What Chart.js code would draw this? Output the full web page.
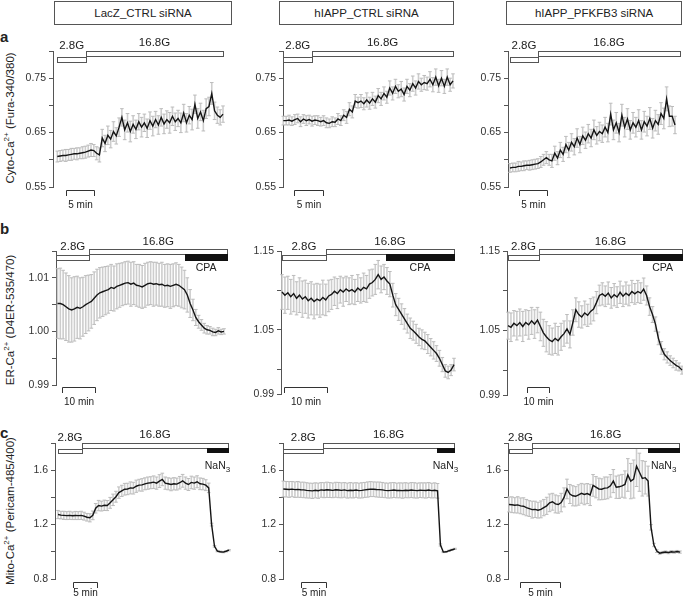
<!DOCTYPE html>
<html>
<head>
<meta charset="utf-8">
<script src="https://cdn.jsdelivr.net/npm/chart.js@4.4.1/dist/chart.umd.min.js"></script>
<style>
  body { margin: 0; background: #fff; }
  #fig { position: relative; width: 683px; height: 599px; overflow: hidden;
         font-family: "Liberation Sans", Arial, sans-serif; color: #222; }
  #fig canvas { position: absolute; }
  .title { position: absolute; top: 1px; height: 24px; box-sizing: border-box; border: 1px solid #555;
           font-size: 11.5px; line-height: 22px; text-align: center; }
  .ylab { position: absolute; white-space: nowrap; font-size: 11.5px;
          transform: translate(-50%, -50%) rotate(-90deg); }
  .ylab sup { font-size: 8px; line-height: 0; }
  .letter { position: absolute; left: 0; font-weight: bold; font-size: 15px; line-height: 15px; }
</style>
</head>
<body>
<div id="fig">
  <div class="title" style="left:54px;width:178px">LacZ_CTRL siRNA</div>
  <div class="title" style="left:279px;width:175px">hIAPP_CTRL siRNA</div>
  <div class="title" style="left:506px;width:176px">hIAPP_PFKFB3 siRNA</div>
  <div class="letter" style="top:29px">a</div>
  <div class="letter" style="top:221px">b</div>
  <div class="letter" style="top:425px">c</div>
  <div class="ylab" style="left:10px;top:118px">Cyto-Ca<sup>2+</sup> (Fura-340/380)</div>
  <div class="ylab" style="left:10px;top:320px">ER-Ca<sup>2+</sup> (D4ER-535/470)</div>
  <div class="ylab" style="left:10px;top:511px">Mito-Ca<sup>2+</sup> (Pericam-485/400)</div>
</div>
<script>
// ---- tick values / labels ----
const aTickValues = [0.55, 0.60, 0.65, 0.70, 0.75, 0.80];
const aTickLabels = ["0.55", "", "0.65", "", "0.75", ""];
const b1TickValues = [0.99, 0.995, 1.00, 1.005, 1.01, 1.015];
const b1TickLabels = ["0.99", "", "1.00", "", "1.01", ""];
const b23TickValues = [0.9687, 1.00, 1.05, 1.10, 1.15];
const b23TickLabels = ["0.99", "", "1.05", "", "1.15"];
const cTickValues = [0.8, 1.0, 1.2, 1.4, 1.6, 1.8];
const cTickLabels = ["0.8", "", "1.2", "", "1.6", ""];

// ---- a: cytosolic Ca2+ ----
const a1Values = [
  0.606,0.607,0.608,0.608,0.609,0.610,0.611,0.611,0.612,0.613,
  0.614,0.616,0.618,0.617,0.612,0.609,0.640,0.630,0.645,0.638,
  0.652,0.644,0.660,0.678,0.655,0.668,0.652,0.665,0.656,0.670,
  0.660,0.668,0.658,0.672,0.662,0.674,0.664,0.678,0.666,0.674,
  0.668,0.680,0.670,0.676,0.668,0.686,0.668,0.682,0.674,0.702,
  0.676,0.688,0.672,0.694,0.698,0.722,0.690,0.682,0.678,0.684];
const a1Errors = [
  0.010,0.010,0.010,0.011,0.010,0.011,0.010,0.011,0.010,0.011,
  0.011,0.011,0.012,0.011,0.012,0.013,0.016,0.015,0.017,0.016,
  0.018,0.015,0.017,0.016,0.018,0.017,0.019,0.016,0.017,0.015,
  0.018,0.016,0.017,0.016,0.018,0.015,0.017,0.016,0.018,0.016,
  0.019,0.017,0.016,0.015,0.018,0.016,0.017,0.016,0.019,0.017,
  0.018,0.016,0.019,0.018,0.017,0.020,0.016,0.015,0.014,0.015];
const a2Values = [
  0.672,0.672,0.673,0.671,0.674,0.676,0.670,0.675,0.672,0.674,
  0.671,0.673,0.672,0.670,0.672,0.668,0.667,0.670,0.669,0.675,
  0.672,0.682,0.678,0.693,0.688,0.708,0.705,0.708,0.703,0.710,
  0.704,0.712,0.706,0.718,0.712,0.722,0.715,0.732,0.722,0.735,
  0.726,0.730,0.720,0.735,0.728,0.740,0.732,0.744,0.738,0.742,
  0.740,0.748,0.738,0.752,0.736,0.750,0.735,0.752,0.738,0.745];
const a2Errors = [
  0.008,0.008,0.009,0.008,0.009,0.008,0.009,0.008,0.009,0.008,
  0.009,0.008,0.009,0.008,0.009,0.009,0.008,0.009,0.008,0.010,
  0.009,0.010,0.011,0.012,0.011,0.012,0.010,0.012,0.011,0.013,
  0.011,0.012,0.011,0.013,0.012,0.012,0.011,0.013,0.012,0.013,
  0.012,0.014,0.012,0.013,0.012,0.014,0.013,0.014,0.012,0.013,
  0.012,0.014,0.013,0.015,0.012,0.014,0.013,0.015,0.012,0.013];
const a3Values = [
  0.585,0.586,0.586,0.588,0.588,0.589,0.590,0.590,0.591,0.592,
  0.593,0.596,0.600,0.604,0.600,0.598,0.612,0.603,0.618,0.610,
  0.628,0.618,0.632,0.624,0.640,0.628,0.644,0.636,0.648,0.640,
  0.655,0.645,0.652,0.648,0.660,0.650,0.684,0.655,0.668,0.650,
  0.682,0.660,0.675,0.655,0.668,0.660,0.672,0.655,0.670,0.662,
  0.676,0.658,0.672,0.665,0.685,0.676,0.712,0.680,0.680,0.664];
const a3Errors = [
  0.008,0.008,0.008,0.009,0.008,0.009,0.008,0.009,0.009,0.009,
  0.009,0.010,0.010,0.011,0.010,0.012,0.013,0.012,0.014,0.013,
  0.015,0.014,0.016,0.015,0.017,0.015,0.016,0.015,0.017,0.016,
  0.018,0.016,0.017,0.016,0.018,0.017,0.020,0.018,0.019,0.017,
  0.020,0.018,0.019,0.017,0.019,0.018,0.020,0.017,0.019,0.018,
  0.020,0.018,0.019,0.018,0.020,0.019,0.022,0.019,0.018,0.016];

// ---- b: ER Ca2+ ----
const b1Values = [
  1.0052,1.0052,1.0050,1.0046,1.0042,1.0040,1.0042,1.0045,1.0043,1.0046,
  1.0050,1.0053,1.0056,1.0062,1.0068,1.0072,1.0074,1.0076,1.0078,1.0082,
  1.0080,1.0084,1.0086,1.0088,1.0090,1.0091,1.0088,1.0090,1.0086,1.0085,
  1.0083,1.0086,1.0089,1.0090,1.0088,1.0089,1.0087,1.0088,1.0085,1.0086,
  1.0084,1.0086,1.0088,1.0086,1.0082,1.0078,1.0068,1.0052,1.0040,1.0026,
  1.0018,1.0012,1.0006,1.0003,1.0002,0.9999,0.9998,1.0001,0.9999,1.0000];
const b1Errors = [
  0.0065,0.0066,0.0064,0.0063,0.0062,0.0060,0.0060,0.0058,0.0057,0.0055,
  0.0054,0.0052,0.0050,0.0049,0.0048,0.0047,0.0046,0.0045,0.0044,0.0043,
  0.0042,0.0042,0.0041,0.0040,0.0040,0.0040,0.0041,0.0040,0.0039,0.0040,
  0.0040,0.0041,0.0040,0.0040,0.0041,0.0040,0.0040,0.0041,0.0040,0.0040,
  0.0041,0.0040,0.0040,0.0039,0.0038,0.0036,0.0032,0.0026,0.0020,0.0015,
  0.0012,0.0010,0.0009,0.0008,0.0007,0.0007,0.0006,0.0006,0.0005,0.0005];
const b2Values = [
  1.098,1.094,1.097,1.092,1.096,1.090,1.094,1.089,1.092,1.087,
  1.090,1.086,1.089,1.087,1.091,1.088,1.093,1.095,1.099,1.096,
  1.101,1.098,1.102,1.099,1.101,1.098,1.103,1.100,1.104,1.102,
  1.108,1.110,1.114,1.120,1.114,1.117,1.112,1.108,1.094,1.082,
  1.076,1.070,1.064,1.058,1.052,1.049,1.045,1.041,1.038,1.036,
  1.032,1.028,1.024,1.020,1.014,1.006,0.998,0.996,0.999,1.006];
const b2Errors = [
  0.022,0.023,0.021,0.022,0.023,0.021,0.022,0.023,0.021,0.022,
  0.021,0.022,0.020,0.021,0.022,0.020,0.020,0.019,0.018,0.019,
  0.017,0.018,0.016,0.017,0.018,0.016,0.017,0.016,0.018,0.017,
  0.018,0.017,0.019,0.018,0.017,0.016,0.017,0.016,0.015,0.014,
  0.014,0.013,0.013,0.012,0.013,0.012,0.012,0.011,0.012,0.011,
  0.012,0.011,0.011,0.010,0.010,0.009,0.008,0.008,0.007,0.008];
const b3Values = [
  1.056,1.054,1.059,1.056,1.060,1.055,1.060,1.057,1.062,1.058,
  1.063,1.055,1.047,1.042,1.038,1.036,1.040,1.037,1.042,1.046,
  1.052,1.045,1.060,1.076,1.070,1.067,1.072,1.069,1.074,1.077,
  1.085,1.094,1.096,1.093,1.097,1.091,1.095,1.092,1.098,1.093,
  1.097,1.094,1.099,1.096,1.099,1.097,1.102,1.094,1.080,1.070,
  1.058,1.040,1.028,1.020,1.016,1.012,1.009,1.006,1.004,1.000];
const b3Errors = [
  0.017,0.018,0.016,0.018,0.017,0.019,0.016,0.018,0.017,0.018,
  0.016,0.018,0.017,0.019,0.018,0.017,0.019,0.018,0.017,0.016,
  0.018,0.017,0.016,0.015,0.016,0.014,0.015,0.014,0.016,0.015,
  0.014,0.013,0.014,0.013,0.014,0.013,0.014,0.013,0.014,0.013,
  0.014,0.013,0.014,0.013,0.014,0.013,0.014,0.012,0.011,0.010,
  0.009,0.008,0.008,0.007,0.007,0.006,0.006,0.006,0.005,0.005];

// ---- c: mitochondrial Ca2+ ----
const c1Values = [
  1.274,1.270,1.268,1.266,1.268,1.265,1.267,1.266,1.268,1.262,
  1.254,1.250,1.268,1.320,1.340,1.336,1.342,1.340,1.360,1.382,
  1.405,1.435,1.448,1.460,1.462,1.470,1.468,1.482,1.490,1.492,
  1.500,1.505,1.508,1.512,1.505,1.520,1.532,1.505,1.500,1.495,
  1.500,1.498,1.508,1.522,1.505,1.495,1.510,1.505,1.515,1.500,
  1.498,1.490,1.470,1.200,1.040,1.005,1.000,0.998,1.004,1.012];
const c1Errors = [
  0.030,0.028,0.030,0.029,0.030,0.028,0.030,0.029,0.030,0.029,
  0.028,0.030,0.032,0.035,0.038,0.036,0.038,0.037,0.040,0.042,
  0.040,0.042,0.041,0.043,0.042,0.044,0.043,0.045,0.043,0.046,
  0.044,0.045,0.044,0.046,0.045,0.047,0.046,0.045,0.044,0.046,
  0.045,0.044,0.046,0.047,0.045,0.044,0.046,0.045,0.044,0.043,
  0.042,0.040,0.035,0.010,0.006,0.005,0.005,0.005,0.005,0.005];
const c2Values = [
  1.462,1.460,1.458,1.461,1.457,1.459,1.456,1.455,1.452,1.450,
  1.448,1.452,1.449,1.455,1.453,1.456,1.454,1.452,1.456,1.454,
  1.452,1.455,1.450,1.453,1.451,1.454,1.450,1.452,1.455,1.458,
  1.461,1.460,1.458,1.457,1.455,1.452,1.450,1.452,1.454,1.451,
  1.452,1.450,1.453,1.451,1.454,1.452,1.450,1.453,1.452,1.451,
  1.454,1.450,1.452,1.448,1.050,0.998,1.000,1.008,1.015,1.022];
const c2Errors = [
  0.058,0.057,0.058,0.056,0.057,0.058,0.056,0.057,0.056,0.055,
  0.056,0.055,0.056,0.054,0.055,0.056,0.055,0.054,0.055,0.056,
  0.055,0.054,0.055,0.056,0.055,0.054,0.055,0.056,0.055,0.056,
  0.055,0.054,0.055,0.056,0.055,0.054,0.055,0.056,0.055,0.054,
  0.055,0.056,0.055,0.054,0.055,0.056,0.055,0.054,0.055,0.056,
  0.055,0.054,0.055,0.054,0.008,0.004,0.004,0.004,0.004,0.004];
const c3Values = [
  1.348,1.346,1.342,1.345,1.338,1.335,1.325,1.318,1.310,1.312,
  1.306,1.312,1.325,1.338,1.360,1.368,1.352,1.348,1.362,1.400,
  1.462,1.425,1.412,1.408,1.418,1.430,1.422,1.428,1.418,1.488,
  1.475,1.462,1.460,1.468,1.470,1.485,1.520,1.475,1.478,1.485,
  1.495,1.565,1.520,1.535,1.630,1.585,1.540,1.545,1.520,1.180,
  1.050,1.005,0.990,0.995,0.998,0.994,1.000,0.998,1.002,0.998];
const c3Errors = [
  0.055,0.058,0.056,0.060,0.058,0.062,0.060,0.058,0.062,0.060,
  0.058,0.062,0.060,0.063,0.065,0.062,0.066,0.064,0.068,0.070,
  0.072,0.070,0.074,0.071,0.075,0.073,0.076,0.074,0.078,0.080,
  0.078,0.080,0.077,0.082,0.080,0.083,0.085,0.082,0.086,0.084,
  0.100,0.120,0.130,0.140,0.150,0.140,0.130,0.120,0.110,0.020,
  0.012,0.010,0.008,0.008,0.008,0.008,0.008,0.008,0.008,0.008];

// ---- protocol (minutes): [2.8G start, switch to 16.8G, end], drug start, scale bar [start, length] ----
const a1Phases = [0, 5.2, 30],    a2Phases = [0, 5.0, 29.3],  a3Phases = [0, 5.0, 30.4];
const b1Phases = [-0.4, 9.7, 51.5], b2Phases = [0, 10.2, 40], b3Phases = [0, 14.0, 79];
const c1Phases = [0, 5.0, 35.4],  c2Phases = [0, 8.0, 34.2],  c3Phases = [0, 2.9, 21.3];
const drugStarts = { b1: 38.8, b2: 24.2, b3: 61.4, c1: 31.0, c2: 30.8, c3: 17.4 };
const scaleBars = {
  a1: [1.6, 5], a2: [1.9, 5], a3: [1.6, 5],
  b1: [1.4, 10], b2: [0.5, 10], b3: [8.6, 10],
  c1: [3.1, 5], c2: [3.5, 5], c3: [1.4, 5]
};
const spans = { a1: 30, a2: 29.3, a3: 29.5, b1: 50.6, b2: 40, b3: 79, c1: 35.6, c2: 34.4, c3: 21.4 };

// ---- layout ----
const rowStyle = {
  a: { hi: [0, 5], lo: [6, 10.5], drug: null, lab2: -5, lab16: -8, drugLab: 0, sbY: 138.5, sbText: 154, drugName: "" },
  b: { hi: [-2, 2.5], lo: [3.5, 8.5], drug: [2.5, 8.5], lab2: -4, lab16: -9, drugLab: 17, sbY: 135.5, sbText: 151.5, drugName: "CPA" },
  c: { hi: [0, 4.5], lo: [5.5, 9.5], drug: [4.5, 9], lab2: -5, lab16: -8, drugLab: 23, sbY: 138.7, sbText: 150.3, drugName: "NaN" }
};
const axisA = { min: 0.55, max: 0.80, ticks: aTickValues, labels: aTickLabels };
const axisB1 = { min: 0.99, max: 1.015, ticks: b1TickValues, labels: b1TickLabels };
const axisB23 = { min: 0.9687, max: 1.15, ticks: b23TickValues, labels: b23TickLabels };
const axisC = { min: 0.8, max: 1.8, ticks: cTickValues, labels: cTickLabels };

const panels = [
  { name: "a1", row: "a", values: a1Values, errors: a1Errors, phases: a1Phases, axis: axisA, axisX: 53, right: 224, top: 51, bottom: 187, dataLeft: 57.3, dataRight: 223 },
  { name: "a2", row: "a", values: a2Values, errors: a2Errors, phases: a2Phases, axis: axisA, axisX: 283, right: 454, top: 51, bottom: 187, dataLeft: 283.3, dataRight: 453 },
  { name: "a3", row: "a", values: a3Values, errors: a3Errors, phases: a3Phases, axis: axisA, axisX: 508, right: 681, top: 51, bottom: 187, dataLeft: 510, dataRight: 675 },
  { name: "b1", row: "b", values: b1Values, errors: b1Errors, phases: b1Phases, axis: axisB1, axisX: 56, right: 228, top: 251, bottom: 385, dataLeft: 57.5, dataRight: 224 },
  { name: "b2", row: "b", values: b2Values, errors: b2Errors, phases: b2Phases, axis: axisB23, axisX: 281, right: 455, top: 251, bottom: 394, dataLeft: 282, dataRight: 454 },
  { name: "b3", row: "b", values: b3Values, errors: b3Errors, phases: b3Phases, axis: axisB23, axisX: 507, right: 683, top: 251, bottom: 395, dataLeft: 508, dataRight: 682 },
  { name: "c1", row: "c", values: c1Values, errors: c1Errors, phases: c1Phases, axis: axisC, axisX: 55, right: 230, top: 443, bottom: 579, dataLeft: 58, dataRight: 229 },
  { name: "c2", row: "c", values: c2Values, errors: c2Errors, phases: c2Phases, axis: axisC, axisX: 283, right: 456, top: 443, bottom: 579, dataLeft: 283.3, dataRight: 455 },
  { name: "c3", row: "c", values: c3Values, errors: c3Errors, phases: c3Phases, axis: axisC, axisX: 508, right: 681, top: 443, bottom: 579, dataLeft: 509, dataRight: 680 }
];

const FONT = '"Liberation Sans", Arial, sans-serif';
const AXIS_W = 45, PAD_T = 30, PAD_B = 30, PAD_R = 6;

function protocolPlugin(p, dt) {
  const rs = rowStyle[p.row];
  return {
    id: "protocol" + p.name,
    beforeDatasetsDraw(chart) {
      // error bars (SEM), one per sample
      const { ctx, scales: { x, y } } = chart;
      ctx.save();
      ctx.strokeStyle = "#cdcdcd";
      ctx.lineWidth = 1.6;
      ctx.beginPath();
      p.values.forEach((v, i) => {
        const px = x.getPixelForValue(i * dt);
        const lo = y.getPixelForValue(v - p.errors[i]);
        const hi = y.getPixelForValue(v + p.errors[i]);
        ctx.moveTo(px, lo); ctx.lineTo(px, hi);
      });
      ctx.stroke();
      ctx.strokeStyle = "#bcbcbc";
      ctx.lineWidth = 1;
      ctx.beginPath();
      p.values.forEach((v, i) => {
        const px = x.getPixelForValue(i * dt);
        const lo = y.getPixelForValue(v - p.errors[i]);
        const hi = y.getPixelForValue(v + p.errors[i]);
        ctx.moveTo(px - 1.8, lo); ctx.lineTo(px + 1.8, lo);
        ctx.moveTo(px - 1.8, hi); ctx.lineTo(px + 1.8, hi);
      });
      ctx.stroke();
      ctx.restore();
    },
    afterDatasetsDraw(chart) {
      const { ctx, scales: { x } } = chart;
      const top = chart.chartArea.top;
      const [t0, tSw, tEnd] = p.phases;
      const rect = (xa, xb, ya, yb, fill) => {
        const X0 = Math.round(xa) + 0.5, X1 = Math.round(xb) + 0.5;
        const Y0 = Math.round(ya) + 0.5, Y1 = Math.round(yb) + 0.5;
        ctx.fillStyle = fill;
        ctx.fillRect(X0, Y0, X1 - X0, Y1 - Y0);
        ctx.strokeRect(X0, Y0, X1 - X0, Y1 - Y0);
      };
      ctx.save();
      ctx.strokeStyle = "#555";
      ctx.lineWidth = 1;
      rect(x.getPixelForValue(t0), x.getPixelForValue(tSw), top + rs.lo[0], top + rs.lo[1], "#fff");
      rect(x.getPixelForValue(tSw), x.getPixelForValue(tEnd), top + rs.hi[0], top + rs.hi[1], "#fff");
      const drugT = drugStarts[p.name];
      if (drugT !== undefined) {
        ctx.strokeStyle = "#111";
        rect(x.getPixelForValue(drugT), x.getPixelForValue(tEnd), top + rs.drug[0], top + rs.drug[1], "#111");
      }
      ctx.fillStyle = "#222";
      ctx.textAlign = "center";
      ctx.textBaseline = "middle";
      ctx.font = "11.5px " + FONT;
      ctx.fillText("2.8G", (x.getPixelForValue(t0) + x.getPixelForValue(tSw)) / 2, top + rs.lab2);
      ctx.fillText("16.8G", (x.getPixelForValue(tSw) + x.getPixelForValue(tEnd)) / 2, top + rs.lab16);
      if (drugT !== undefined) {
        const cx = (x.getPixelForValue(drugT) + x.getPixelForValue(tEnd)) / 2;
        const cy = top + rs.drugLab;
        ctx.font = "10.5px " + FONT;
        if (rs.drugName === "NaN") {
          const w1 = ctx.measureText("NaN").width;
          ctx.font = "8px " + FONT;
          const w2 = ctx.measureText("3").width;
          const left = cx - (w1 + w2) / 2;
          ctx.textAlign = "left";
          ctx.font = "10.5px " + FONT;
          ctx.fillText("NaN", left, cy);
          ctx.font = "8px " + FONT;
          ctx.fillText("3", left + w1, cy + 3.5);
        } else {
          ctx.fillText(rs.drugName, cx, cy);
        }
      }
      // time scale bar
      const [sb0, sbLen] = scaleBars[p.name];
      const x0 = Math.round(x.getPixelForValue(sb0)) + 0.5;
      const x1 = Math.round(x.getPixelForValue(sb0 + sbLen)) + 0.5;
      const yb = Math.round(top + rs.sbY) + 0.5;
      ctx.strokeStyle = "#333";
      ctx.beginPath();
      ctx.moveTo(x0, yb + 5.5); ctx.lineTo(x0, yb); ctx.lineTo(x1, yb); ctx.lineTo(x1, yb + 5.5);
      ctx.stroke();
      ctx.textAlign = "center";
      ctx.font = "10px " + FONT;
      ctx.fillText(sbLen + " min", (x0 + x1) / 2, top + rs.sbText);
      ctx.restore();
    }
  };
}

const fig = document.getElementById("fig");
panels.forEach(p => {
  const span = spans[p.name];
  const dt = span / (p.values.length - 1);
  const pxPerMin = (p.dataRight - p.dataLeft) / span;
  const xMin = -(p.dataLeft - p.axisX) / pxPerMin;
  const xMax = span + (p.right - p.dataRight) / pxPerMin;

  const canvas = document.createElement("canvas");
  const w = p.right - p.axisX + AXIS_W + PAD_R;
  const h = p.bottom - p.top + PAD_T + PAD_B;
  canvas.width = w;
  canvas.height = h;
  canvas.style.left = (p.axisX - AXIS_W) + "px";
  canvas.style.top = (p.top - PAD_T) + "px";
  fig.appendChild(canvas);

  new Chart(canvas.getContext("2d"), {
    type: "line",
    data: {
      datasets: [{
        data: p.values.map((v, i) => ({ x: i * dt, y: v })),
        borderColor: "#151515",
        borderWidth: 1.4,
        pointRadius: 0,
        tension: 0
      }]
    },
    options: {
      responsive: false,
      animation: false,
      devicePixelRatio: 1,
      layout: { padding: { left: 0, top: PAD_T, right: PAD_R, bottom: PAD_B } },
      plugins: { legend: { display: false }, tooltip: { enabled: false } },
      scales: {
        x: { type: "linear", display: false, min: xMin, max: xMax },
        y: {
          min: p.axis.min,
          max: p.axis.max,
          afterFit: s => { s.width = AXIS_W; },
          afterBuildTicks: s => { s.ticks = p.axis.ticks.map(v => ({ value: v })); },
          border: { display: true, color: "#555", width: 1 },
          grid: { drawOnChartArea: false, drawTicks: true, tickLength: 4, color: "#555" },
          ticks: {
            autoSkip: false,
            padding: 3,
            color: "#333",
            font: { size: 10.5, family: FONT },
            callback: (val, idx) => p.axis.labels[idx]
          }
        }
      }
    },
    plugins: [protocolPlugin(p, dt)]
  });
});
</script>
</body>
</html>
